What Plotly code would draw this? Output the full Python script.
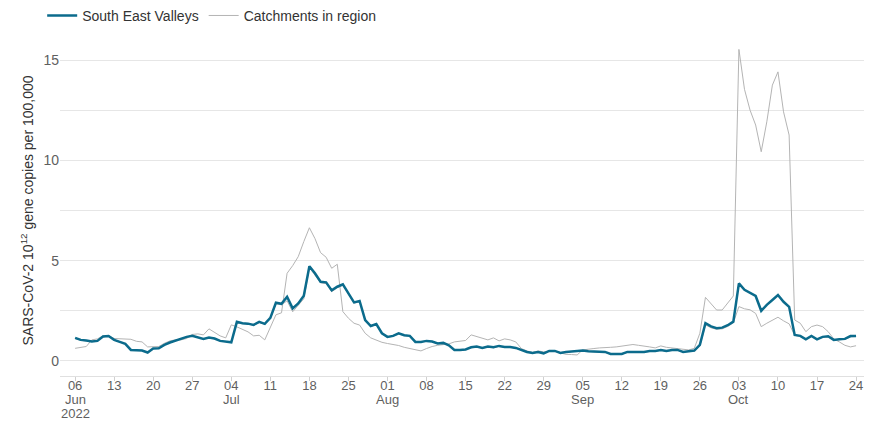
import pandas as pd
import plotly.graph_objects as go

# Datas diárias (06 jun a 24 out 2022)
datas = pd.date_range('2022-06-06', '2022-10-24', freq='D')

# South East Valleys (linha azul)
sev = [
    # jun
    1.15, 1.05, 1.02, 0.97, 1.0, 1.22, 1.24, 1.05, 0.95, 0.85, 0.55, 0.53, 0.52, 0.42, 0.62, 0.63, 0.8, 0.92, 1.02, 1.1,
    1.2, 1.25, 1.18, 1.1, 1.17,
    # jul
    1.12, 1.0, 0.98, 0.93, 1.95, 1.88, 1.86, 1.8, 1.95, 1.85, 2.15, 2.9, 2.85, 3.2, 2.62, 2.87, 3.25, 4.72, 4.37, 3.95,
    3.92, 3.52, 3.7, 3.82, 3.37, 2.92, 2.99, 2.04, 1.74, 1.84, 1.38,
    # ago
    1.2, 1.25, 1.38, 1.28, 1.25, 0.95, 0.95, 1.0, 0.97, 0.87, 0.9, 0.78, 0.55, 0.55, 0.57, 0.68, 0.72, 0.65, 0.72, 0.68,
    0.75, 0.7, 0.7, 0.65, 0.55, 0.45, 0.4, 0.45, 0.38, 0.5, 0.5,
    # set
    0.4, 0.45, 0.47, 0.48, 0.52, 0.48, 0.48, 0.47, 0.45, 0.35, 0.35, 0.35, 0.45, 0.45, 0.45, 0.45, 0.5, 0.5, 0.55, 0.5,
    0.55, 0.55, 0.45, 0.48, 0.52, 0.8, 1.88, 1.72, 1.63, 1.66,
    # out
    1.78, 1.96, 3.87, 3.55, 3.4, 3.24, 2.5, 2.8, 3.04, 3.29, 2.95, 2.7, 1.3, 1.25, 1.08, 1.25, 1.08, 1.2, 1.23, 1.05,
    1.08, 1.1, 1.24, 1.25,
]

# Catchment A (linha cinza com o pico de outubro)
catch_a = [
    # jun
    0.63, 0.68, 0.72, 1.05, 1.1, 1.25, 1.25, 1.12, 1.1, 1.1, 1.08, 0.98, 0.95, 0.7, 0.7, 0.72, 0.88, 1.0, 1.05, 1.05,
    1.12, 1.32, 1.35, 1.3, 1.6,
    # jul
    1.42, 1.25, 1.15, 1.8, 1.7, 1.58, 1.45, 1.25, 1.28, 1.05, 1.7, 2.3, 2.4, 4.37, 4.75, 5.2, 5.95, 6.64, 6.1, 5.4,
    5.17, 4.62, 4.82, 2.46, 2.13, 1.88, 1.79, 1.38, 1.15, 1.03, 0.93,
    # ago
    0.87, 0.82, 0.77, 0.68, 0.62, 0.55, 0.5, 0.62, 0.72, 0.78, 0.8, 0.85, 0.95, 1.0, 1.02, 1.3, 1.22, 1.12, 1.05, 1.15,
    1.0, 1.1, 1.05, 0.95, 0.62, 0.5, 0.42, 0.5, 0.45, 0.5, 0.48,
    # set
    0.4, 0.33, 0.32, 0.3, 0.55, 0.6, 0.62, 0.65, 0.65, 0.68, 0.7, 0.75, 0.8, 0.82, 0.78, 0.75, 0.7, 0.65, 0.75, 0.68,
    0.65, 0.62, 0.6, 0.55, 0.63, 1.38, 3.17, 2.87, 2.54, 2.54,
    # out
    2.87, 3.24, 15.53, 13.54, 12.5, 11.76, 10.43, 11.92, 13.75, 14.41, 12.42, 11.26, 2.04, 1.88, 1.46, 1.71, 1.79, 1.71,
    1.46, 1.1, 0.95, 0.78, 0.7, 0.76,
]

# Catchment B (linha cinza próxima da azul)
catch_b = [
    # jun
    1.12, 1.03, 1.0, 0.98, 1.02, 1.2, 1.22, 1.06, 0.96, 0.86, 0.57, 0.54, 0.53, 0.44, 0.62, 0.64, 0.8, 0.93, 1.02, 1.1,
    1.18, 1.24, 1.18, 1.1, 1.15,
    # jul
    1.1, 1.0, 0.97, 0.93, 1.92, 1.86, 1.84, 1.78, 1.92, 1.83, 2.12, 2.85, 2.8, 3.0, 2.45, 2.75, 3.1, 4.65, 4.3, 3.9,
    3.85, 3.45, 3.65, 3.78, 3.33, 2.88, 2.95, 2.02, 1.72, 1.82, 1.36,
    # ago
    1.18, 1.23, 1.36, 1.26, 1.23, 0.96, 0.96, 1.0, 0.97, 0.88, 0.9, 0.78, 0.56, 0.55, 0.56, 0.66, 0.7, 0.64, 0.7, 0.66,
    0.73, 0.68, 0.69, 0.64, 0.55, 0.46, 0.42, 0.46, 0.4, 0.5, 0.5,
    # set
    0.42, 0.46, 0.47, 0.48, 0.5, 0.47, 0.46, 0.45, 0.43, 0.35, 0.34, 0.34, 0.42, 0.43, 0.44, 0.44, 0.48, 0.49, 0.53, 0.49,
    0.53, 0.53, 0.45, 0.47, 0.5, 0.75, 1.8, 1.65, 1.58, 1.6,
    # out
    1.72, 1.9, 2.71, 2.6, 2.55, 2.37, 1.71, 1.88, 2.04, 2.18, 2.0, 1.85, 1.28, 1.22, 1.06, 1.22, 1.06, 1.18, 1.2, 1.04,
    1.06, 1.08, 1.2, 1.22,
]

# Ticks semanais do eixo x (dia) + linhas de mês e ano
ticks_x = pd.date_range('2022-06-06', '2022-10-24', freq='7D')
ticks_dia = [d.strftime('%d') for d in ticks_x]
meses_x = ['2022-06-06', '2022-07-04', '2022-08-01', '2022-09-05', '2022-10-03']
meses_texto = ['Jun', 'Jul', 'Aug', 'Sep', 'Oct']
ano_x = '2022-06-06'
ano_texto = '2022'

AZUL = '#0b6b8c'
CINZA = '#b4b4b4'
COR_TICK = '#5f5f5f'

fig = go.Figure()

# Catchments em cinza (desenhadas primeiro, ficam por baixo)
for i, serie in enumerate([catch_a, catch_b]):
    fig.add_trace(go.Scatter(
        x=datas, y=serie, mode='lines',
        name='Catchments in region',
        legendgroup='catch', showlegend=(i == 0), legendrank=2,
        line=dict(color=CINZA, width=1),
    ))

fig.add_trace(go.Scatter(
    x=datas, y=sev, mode='lines',
    name='South East Valleys', legendrank=1,
    line=dict(color=AZUL, width=2.5),
))

# Rótulos de mês e ano abaixo dos dias
for x, txt in zip(meses_x, meses_texto):
    fig.add_annotation(x=x, xref='x', y=-0.0725, yref='paper', text=txt,
                       showarrow=False, yanchor='middle',
                       font=dict(size=13, color=COR_TICK))
fig.add_annotation(x=ano_x, xref='x', y=-0.1148, yref='paper', text=ano_texto,
                   showarrow=False, yanchor='middle',
                   font=dict(size=13, color=COR_TICK))

# A página tem 8px de margem no body: figura um pouco menor que a janela
fig.update_layout(
    width=864, height=414,
    margin=dict(l=52, r=2, t=37, b=46, autoexpand=False),
    plot_bgcolor='white', paper_bgcolor='white',
    font=dict(family='Liberation Sans, Arial, sans-serif', size=14, color=COR_TICK),
    showlegend=True,
    legend=dict(
        orientation='h', x=-0.022, xanchor='left',
        y=1.088, yanchor='middle',
        font=dict(size=14, color='#333333'),
        bgcolor='rgba(0,0,0,0)',
    ),
    xaxis=dict(
        range=['2022-06-03 07:00', '2022-10-26 12:00'],
        tickvals=ticks_x, ticktext=ticks_dia,
        showgrid=False, zeroline=False, automargin=False,
        showline=True, linecolor='#e0e0e0', linewidth=1,
        ticks='outside', ticklen=4, tickcolor='#d0d0d0',
        ticklabelstandoff=-7,
        tickfont=dict(size=13, color=COR_TICK),
    ),
    yaxis=dict(
        range=[-0.75, 15.75],
        tick0=0, dtick=5, automargin=False,
        showgrid=True, gridcolor='#e6e6e6', gridwidth=1,
        minor=dict(dtick=2.5, tick0=0, showgrid=True, gridcolor='#e6e6e6', gridwidth=1),
        zeroline=False, showline=False, ticks='',
        tickfont=dict(size=14, color=COR_TICK),
        title=dict(text='SARS-CoV-2 10<sup>12</sup> gene copies per 100,000',
                   font=dict(size=14, color='#333333'), standoff=6),
    ),
)

fig.write_html('out.html')
